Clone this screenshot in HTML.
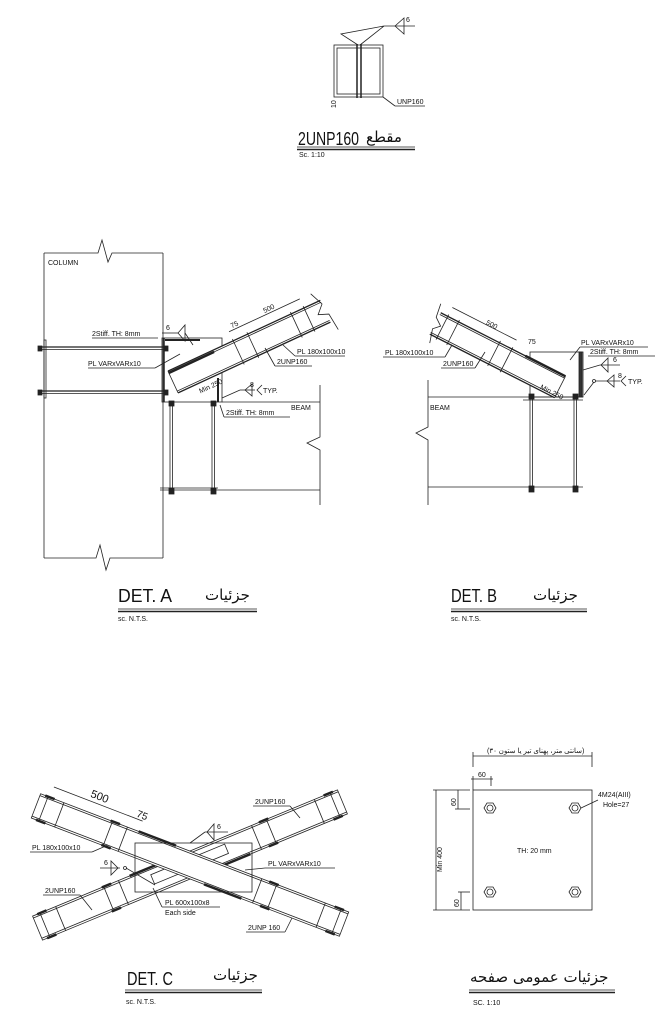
<!DOCTYPE html>
<html><head><meta charset="utf-8"><style>
html,body{margin:0;padding:0;background:#fff;}
svg{display:block;}
svg text{font-family:"Liberation Sans","Noto Sans CJK SC",sans-serif;fill:#111;stroke:none;font-weight:normal;}
.t{font-size:7px;}
svg text.ti{font-size:18px;}
svg text.ar{font-size:15px;font-family:"DejaVu Sans",sans-serif;}
</style></head><body>
<svg width="662" height="1024" viewBox="0 0 662 1024" xmlns="http://www.w3.org/2000/svg" fill="none" stroke="#222" stroke-width="0.8">

<!-- ===== Top section 2UNP160 ===== -->
<rect x="334" y="45" width="49" height="52"/>
<rect x="337" y="48" width="43" height="46"/>
<line x1="357" y1="44" x2="357" y2="98" stroke-width="1.5"/>
<line x1="361" y1="44" x2="361" y2="98" stroke-width="1.5"/>
<polyline points="358,45 341,34 384,26 360,45"/>
<line x1="384" y1="26" x2="415" y2="26"/>
<polygon points="395,26 404,18 404,34"/>
<text class="t" x="406" y="22">6</text>
<line x1="383" y1="97" x2="395" y2="106"/><line x1="395" y1="106" x2="425" y2="106"/>
<text class="t" x="397" y="104">UNP160</text>
<text class="t" transform="translate(336,108) rotate(-90)">10</text>
<text class="ti" x="298" y="145" textLength="61" lengthAdjust="spacingAndGlyphs">2UNP160</text>
<text class="ar" x="366" y="142">مقطع</text>
<line x1="297" y1="147" x2="415" y2="147"/><line x1="297" y1="149.5" x2="415" y2="149.5" stroke-width="1.4"/>
<text class="t" x="299" y="157" font-size="6">Sc. 1:10</text>

<!-- ===== DET A ===== -->
<polyline points="44,253 98,253 102,240 108,262 112,253 163,253"/>
<line x1="44" y1="253" x2="44" y2="558"/>
<line x1="163" y1="253" x2="163" y2="558"/>
<polyline points="44,558 96,558 100,545 106,570 110,558 163,558"/>
<text class="t" x="48" y="265">COLUMN</text>
<rect x="44" y="340" width="2" height="58"/>
<line x1="40" y1="347" x2="168" y2="347" stroke-width="1.3"/>
<line x1="40" y1="349.5" x2="168" y2="349.5"/>
<line x1="40" y1="391" x2="168" y2="391" stroke-width="1.3"/>
<line x1="40" y1="393.5" x2="168" y2="393.5"/>
<rect x="38" y="346" width="4" height="5" fill="#222"/><rect x="38" y="390" width="4" height="5" fill="#222"/>
<rect x="164" y="346" width="4" height="5" fill="#222"/><rect x="164" y="390" width="4" height="5" fill="#222"/>
<rect x="162" y="338" width="60" height="64"/>
<line x1="164" y1="338" x2="164" y2="402" stroke-width="1.5"/>
<line x1="165" y1="340" x2="200" y2="340" stroke-width="2"/>
<line x1="218" y1="378" x2="218" y2="402" stroke-width="2"/>
<line x1="222" y1="402" x2="320" y2="402"/>
<line x1="160" y1="490" x2="320" y2="490"/>
<line x1="160" y1="488" x2="218" y2="488"/>
<polyline points="320,385 320,437 307,443 320,450 320,505"/>
<line x1="170" y1="402" x2="170" y2="492"/><line x1="172.5" y1="402" x2="172.5" y2="492"/>
<line x1="212" y1="402" x2="212" y2="492"/><line x1="214.5" y1="402" x2="214.5" y2="492"/>
<rect x="169" y="488" width="5" height="6" fill="#222"/><rect x="211" y="488" width="5" height="6" fill="#222"/>
<rect x="169" y="401" width="5" height="5" fill="#222"/><rect x="211" y="401" width="5" height="5" fill="#222"/>
<g transform="translate(173,382) rotate(-24.9)">
<rect x="0" y="-12" width="168" height="24" stroke="none" fill="#fff"/>
<line x1="0" y1="-12" x2="168" y2="-12" stroke-width="1.3"/>
<line x1="0" y1="-10" x2="168" y2="-10"/>
<line x1="0" y1="12" x2="168" y2="12" stroke-width="1.3"/>
<line x1="0" y1="10" x2="168" y2="10"/>
<line x1="0" y1="-12" x2="0" y2="12"/>
<line x1="0" y1="-10" x2="50" y2="-10" stroke-width="2.5"/>
<line x1="72" y1="-14" x2="72" y2="14"/><line x1="88" y1="-14" x2="88" y2="14"/>
<line x1="136" y1="-14" x2="136" y2="14"/><line x1="150" y1="-14" x2="150" y2="14"/>
<polyline points="162,-22 168,-8 160,0 170,4 172,22"/>
<line x1="88" y1="-22" x2="150" y2="-22"/>
<line x1="72" y1="-22" x2="88" y2="-22"/>
<text class="t" x="112" y="-24" font-size="5">500</text>
<text class="t" x="76" y="-24" font-size="5">75</text>
<text class="t" x="20" y="22" font-size="5">Min 250</text>
</g>
<text class="t" x="92" y="336">2Stiff. TH: 8mm</text><line x1="92" y1="338" x2="158" y2="338"/>
<line x1="162" y1="333" x2="178" y2="333"/><text class="t" x="166" y="330">6</text>
<polygon points="178,333 185,325 185,341"/><line x1="185" y1="333" x2="193" y2="345"/>
<text class="t" x="88" y="366">PL VARxVARx10</text><line x1="88" y1="368" x2="155" y2="368"/><line x1="155" y1="368" x2="180" y2="354"/>
<text class="t" x="297" y="354">PL 180x100x10</text><line x1="295" y1="356" x2="345" y2="356"/><line x1="295" y1="356" x2="283" y2="345"/>
<text class="t" x="277" y="364">2UNP160</text><line x1="275" y1="366" x2="312" y2="366"/><line x1="275" y1="366" x2="265" y2="348"/>
<line x1="222" y1="398" x2="240" y2="390"/><line x1="240" y1="390" x2="255" y2="390"/>
<polygon points="245,390 252,384 252,396"/><text class="t" x="250" y="387">8</text>
<polyline points="262,385 257,390 262,395"/><text class="t" x="263" y="393">TYP.</text>
<text class="t" x="226" y="415">2Stiff. TH: 8mm</text><line x1="224" y1="417" x2="290" y2="417"/><line x1="224" y1="417" x2="220" y2="405"/>
<text class="t" x="291" y="410">BEAM</text>
<text class="ti" x="118" y="602" textLength="54" lengthAdjust="spacingAndGlyphs">DET. A</text>
<text class="ar" x="205" y="600">جزئیات</text>
<line x1="118" y1="609" x2="257" y2="609"/><line x1="118" y1="611.5" x2="257" y2="611.5" stroke-width="1.4"/>
<text class="t" x="118" y="621" font-size="6">sc. N.T.S.</text>

<!-- ===== DET B ===== -->
<polyline points="428,380 428,427 416,433 428,440 428,505"/>
<line x1="428" y1="397" x2="583" y2="397"/>
<line x1="428" y1="487" x2="583" y2="487"/>
<line x1="523" y1="400" x2="583" y2="400"/>
<line x1="530" y1="397" x2="530" y2="492"/><line x1="532.5" y1="397" x2="532.5" y2="492"/>
<line x1="574" y1="397" x2="574" y2="492"/><line x1="576.5" y1="397" x2="576.5" y2="492"/>
<rect x="529" y="394" width="5" height="5" fill="#222"/><rect x="573" y="394" width="5" height="5" fill="#222"/>
<rect x="529" y="486" width="5" height="6" fill="#222"/><rect x="573" y="486" width="5" height="6" fill="#222"/>
<rect x="530" y="352" width="53" height="45"/>
<rect x="579" y="352" width="3" height="45" fill="#333"/>
<g transform="translate(560,387) rotate(207)">
<rect x="0" y="-12" width="140" height="24" stroke="none" fill="#fff"/>
<line x1="0" y1="-12" x2="140" y2="-12" stroke-width="1.3"/>
<line x1="0" y1="-10" x2="140" y2="-10"/>
<line x1="0" y1="12" x2="140" y2="12" stroke-width="1.3"/>
<line x1="0" y1="10" x2="140" y2="10"/>
<line x1="0" y1="-12" x2="0" y2="12"/>
<line x1="0" y1="12" x2="45" y2="12" stroke-width="2.5"/>
<line x1="60" y1="-14" x2="60" y2="14"/><line x1="74" y1="-14" x2="74" y2="14"/>
<line x1="120" y1="-14" x2="120" y2="14"/><line x1="132" y1="-14" x2="132" y2="14"/>
<polyline points="136,-20 140,-6 134,0 142,6 144,20"/>
<line x1="74" y1="22" x2="132" y2="22"/><line x1="60" y1="22" x2="74" y2="22"/>
</g>
<text class="t" x="486" y="326" font-size="5" transform="rotate(27 490 324)">500</text>
<text class="t" x="528" y="344" font-size="5">75</text>
<text class="t" x="540" y="391" font-size="5" transform="rotate(27 545 389)">Min 250</text>
<text class="t" x="581" y="345">PL VARxVARx10</text><line x1="580" y1="347" x2="648" y2="347"/><line x1="580" y1="347" x2="570" y2="360"/>
<text class="t" x="590" y="354">2Stiff. TH: 8mm</text><line x1="588" y1="356" x2="655" y2="356"/>
<line x1="583" y1="370" x2="600" y2="365"/><line x1="600" y1="365" x2="620" y2="365"/>
<polygon points="601,365 608,358 608,372"/><text class="t" x="613" y="362">6</text>
<line x1="584" y1="395" x2="594" y2="382"/><circle cx="594" cy="381" r="1.5"/><line x1="595" y1="381" x2="620" y2="381"/>
<polygon points="607,381 614,375 614,387"/><text class="t" x="618" y="378">8</text>
<polyline points="626,376 621,381 626,386"/><text class="t" x="628" y="384">TYP.</text>
<text class="t" x="385" y="355">PL 180x100x10</text><line x1="383" y1="357" x2="445" y2="357"/><line x1="445" y1="357" x2="452" y2="345"/>
<text class="t" x="443" y="366">2UNP160</text><line x1="441" y1="368" x2="475" y2="368"/><line x1="475" y1="368" x2="485" y2="352"/>
<text class="t" x="430" y="410">BEAM</text>
<text class="ti" x="451" y="602" textLength="46" lengthAdjust="spacingAndGlyphs">DET. B</text>
<text class="ar" x="533" y="600">جزئیات</text>
<line x1="451" y1="609" x2="587" y2="609"/><line x1="451" y1="611.5" x2="587" y2="611.5" stroke-width="1.4"/>
<text class="t" x="451" y="621" font-size="6">sc. N.T.S.</text>

<!-- ===== DET C ===== -->
<g transform="translate(190,865) rotate(-22.5)">
<rect x="-165" y="-13" width="330" height="26" fill="#fff"/>
<line x1="-165" y1="-11" x2="165" y2="-11"/><line x1="-165" y1="11" x2="165" y2="11"/>
<line x1="-157" y1="-13" x2="-157" y2="13"/><line x1="-140" y1="-13" x2="-140" y2="13"/>
<line x1="-88" y1="-13" x2="-88" y2="13"/><line x1="-72" y1="-13" x2="-72" y2="13"/>
<line x1="72" y1="-13" x2="72" y2="13"/><line x1="88" y1="-13" x2="88" y2="13"/>
<line x1="140" y1="-13" x2="140" y2="13"/><line x1="157" y1="-13" x2="157" y2="13"/>
<g stroke-width="2.5"><line x1="-160" y1="-13" x2="-150" y2="-13"/><line x1="-160" y1="13" x2="-150" y2="13"/><line x1="-90" y1="-13" x2="-80" y2="-13"/><line x1="-90" y1="13" x2="-80" y2="13"/><line x1="80" y1="-13" x2="90" y2="-13"/><line x1="80" y1="13" x2="90" y2="13"/><line x1="150" y1="-13" x2="160" y2="-13"/><line x1="150" y1="13" x2="160" y2="13"/>
<line x1="-60" y1="-13" x2="-20" y2="-13"/><line x1="20" y1="13" x2="60" y2="13"/></g>
<rect x="-40" y="-6" width="80" height="10"/>
</g>
<g transform="translate(190,865) rotate(21)">
<rect x="-165" y="-13" width="330" height="26" fill="#fff"/>
<line x1="-165" y1="-11" x2="165" y2="-11"/><line x1="-165" y1="11" x2="165" y2="11"/>
<line x1="-157" y1="-13" x2="-157" y2="13"/><line x1="-140" y1="-13" x2="-140" y2="13"/>
<line x1="-88" y1="-13" x2="-88" y2="13"/><line x1="-72" y1="-13" x2="-72" y2="13"/>
<line x1="72" y1="-13" x2="72" y2="13"/><line x1="88" y1="-13" x2="88" y2="13"/>
<line x1="140" y1="-13" x2="140" y2="13"/><line x1="157" y1="-13" x2="157" y2="13"/>
<g stroke-width="2.5"><line x1="-160" y1="-13" x2="-150" y2="-13"/><line x1="-160" y1="13" x2="-150" y2="13"/><line x1="-90" y1="-13" x2="-80" y2="-13"/><line x1="-90" y1="13" x2="-80" y2="13"/><line x1="80" y1="-13" x2="90" y2="-13"/><line x1="80" y1="13" x2="90" y2="13"/><line x1="150" y1="-13" x2="160" y2="-13"/><line x1="150" y1="13" x2="160" y2="13"/>
<line x1="-60" y1="-13" x2="-20" y2="-13"/><line x1="20" y1="13" x2="60" y2="13"/></g>
<line x1="-155" y1="-24" x2="-72" y2="-24"/><line x1="-72" y1="-24" x2="-60" y2="-24"/>
<text x="-118" y="-28" font-size="11">500</text>
<text x="-68" y="-26" font-size="10">75</text>
</g>
<rect x="135" y="843" width="117" height="49"/>
<line x1="190" y1="843" x2="205" y2="832"/><line x1="205" y1="832" x2="228" y2="832"/>
<polygon points="207,832 214,824 214,840"/><text class="t" x="217" y="829">6</text>
<line x1="100" y1="868" x2="120" y2="868"/><polygon points="118,868 111,861 111,875"/><circle cx="125" cy="868" r="1.5"/><line x1="126" y1="868" x2="155" y2="885"/>
<text class="t" x="104" y="865">6</text>
<text class="t" x="32" y="850">PL 180x100x10</text><line x1="30" y1="852" x2="92" y2="852"/><line x1="92" y1="852" x2="108" y2="845"/>
<text class="t" x="255" y="804">2UNP160</text><line x1="253" y1="806" x2="290" y2="806"/><line x1="290" y1="806" x2="300" y2="818"/>
<text class="t" x="268" y="866">PL VARxVARx10</text><line x1="265" y1="868" x2="335" y2="868"/><line x1="265" y1="868" x2="245" y2="870"/>
<text class="t" x="45" y="893">2UNP160</text><line x1="43" y1="895" x2="80" y2="895"/><line x1="80" y1="895" x2="92" y2="910"/>
<text class="t" x="165" y="905">PL 600x100x8</text><line x1="162" y1="907" x2="220" y2="907"/><line x1="162" y1="907" x2="153" y2="888"/>
<text class="t" x="165" y="915">Each side</text>
<text class="t" x="248" y="930">2UNP 160</text><line x1="246" y1="932" x2="285" y2="932"/><line x1="285" y1="932" x2="292" y2="918"/>
<text class="ti" x="127" y="985" textLength="46" lengthAdjust="spacingAndGlyphs">DET. C</text>
<text class="ar" x="213" y="980">جزئیات</text>
<line x1="125" y1="990" x2="262" y2="990"/><line x1="125" y1="992.5" x2="262" y2="992.5" stroke-width="1.4"/>
<text class="t" x="126" y="1004" font-size="6">sc. N.T.S.</text>

<!-- ===== Plate ===== -->
<rect x="473" y="790" width="119" height="120"/>
<line x1="473" y1="756" x2="592" y2="756"/><line x1="473" y1="752" x2="473" y2="767"/><line x1="592" y1="752" x2="592" y2="767"/>
<text class="t" x="487" y="753" font-size="6">(۳۰ سانتی متر، پهنای تیر یا ستون)</text>
<line x1="471" y1="779" x2="493" y2="779"/><line x1="473" y1="776" x2="473" y2="790"/><line x1="491" y1="776" x2="491" y2="786"/>
<text class="t" x="478" y="777">60</text>
<line x1="436" y1="790" x2="436" y2="910"/><line x1="433" y1="790" x2="470" y2="790"/><line x1="433" y1="910" x2="470" y2="910"/>
<text class="t" transform="translate(442,872) rotate(-90)">Min 400</text>
<line x1="458" y1="790" x2="458" y2="809"/><line x1="455" y1="809" x2="470" y2="809"/>
<text class="t" transform="translate(456,806) rotate(-90)">60</text>
<line x1="461" y1="892" x2="461" y2="910"/><line x1="458" y1="892" x2="470" y2="892"/>
<text class="t" transform="translate(459,907) rotate(-90)">60</text>
<polygon points="484,808 487,803 493,803 496,808 493,813 487,813"/><circle cx="490" cy="808" r="3"/>
<polygon points="569,808 572,803 578,803 581,808 578,813 572,813"/><circle cx="575" cy="808" r="3"/>
<polygon points="484,892 487,887 493,887 496,892 493,897 487,897"/><circle cx="490" cy="892" r="3"/>
<polygon points="569,892 572,887 578,887 581,892 578,897 572,897"/><circle cx="575" cy="892" r="3"/>
<line x1="581" y1="808" x2="598" y2="800"/>
<text class="t" x="598" y="797">4M24(AIII)</text><text class="t" x="603" y="807">Hole=27</text>
<text class="t" x="517" y="853">TH: 20 mm</text>
<text class="ar" x="470" y="982">جزئیات عمومی صفحه</text>
<line x1="469" y1="990" x2="615" y2="990"/><line x1="469" y1="992.5" x2="615" y2="992.5" stroke-width="1.4"/>
<text class="t" x="473" y="1005" font-size="8">SC. 1:10</text>
</svg>
</body></html>
